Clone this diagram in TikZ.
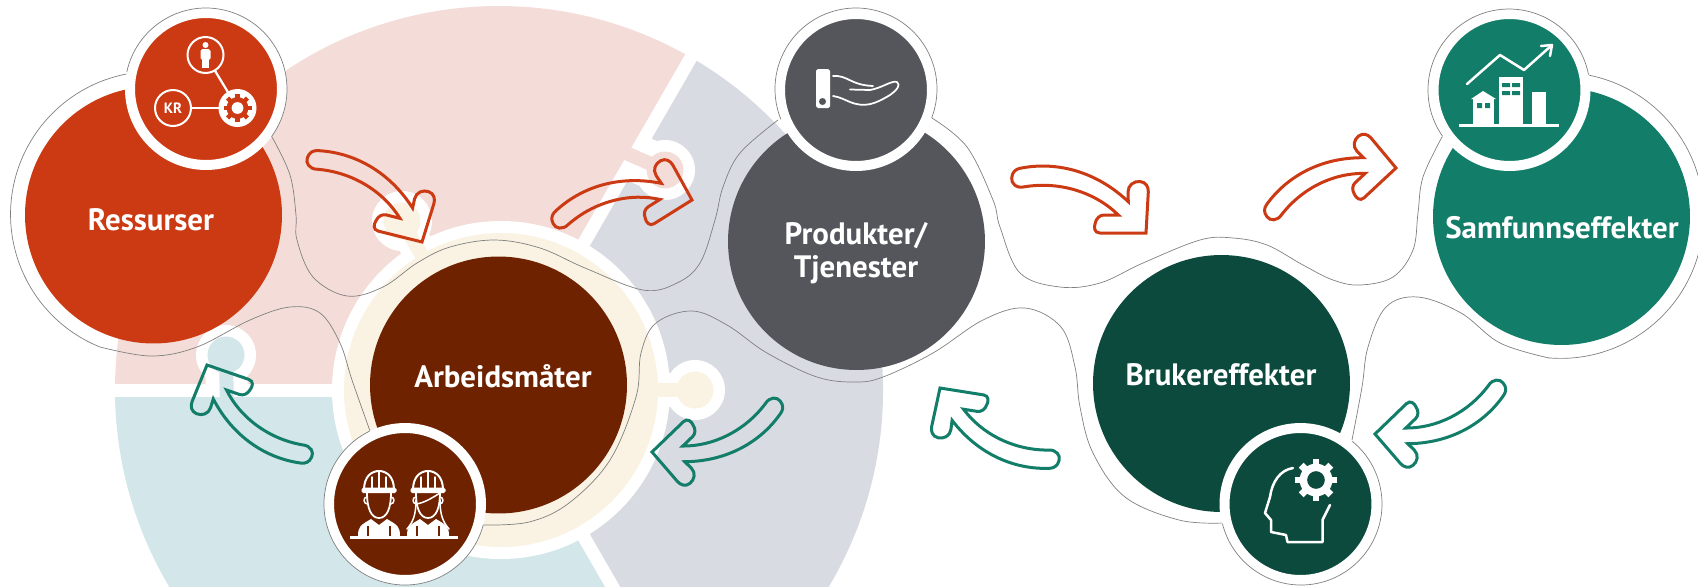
\documentclass[tikz,border=0pt]{standalone}
\usepackage{fontspec}
\setmainfont{PT Sans}
\definecolor{redfill}{HTML}{CC3A14}
\definecolor{brownfill}{HTML}{6E2200}
\definecolor{greyfill}{HTML}{55565B}
\definecolor{pinefill}{HTML}{0B4A3C}
\definecolor{greenfill}{HTML}{127D68}
\definecolor{piepink}{HTML}{F4DDD8}
\definecolor{piegrey}{HTML}{D8DBE2}
\definecolor{pieblue}{HTML}{D3E6EA}
\definecolor{piecream}{HTML}{FAF3E3}
\tikzset{
  hub/.style={circle,inner sep=0pt,outer sep=0pt,minimum size=5.14cm},
  icondisc/.style={circle,inner sep=0pt,outer sep=0pt,minimum size=3.04cm,draw=white,line width=.2cm},
  hubtext/.style={text=white,font=\bfseries\fontsize{17.6}{21}\selectfont,align=center,inner sep=0pt},
  blobline/.style={draw=black!50,line width=.4pt},
  linkdisc/.style={circle,inner sep=0pt,outer sep=0pt,minimum size=.72cm,draw=white,line width=.04cm},
  linkline/.style={white,line width=.045cm},
  glyph/.style={white,line width=.05cm,line cap=round,line join=round},
}
\newcommand{\piepiece}[3]{ \fill[#3] (499,390) -- ++(#1:384) arc[start angle=#1,end angle=#2,radius=384] -- cycle;}
\newcommand{\knobhalo}[5]{ \draw[white,line width=#5*0.02cm] (#1,#2) -- (#3,#4); \fill[white] (#3,#4) circle (30);}
\newcommand{\knobfill}[5]{ \draw[#5,line width=.28cm] (#1,#2) -- (#3,#4); \fill[#5] (#3,#4) circle (18.5);}
\newcommand{\iconarc}[4]{ \draw[blobline] (#1,#2) ++(#3:81) arc[start angle=#3,end angle=#4,radius=81];}
\newcommand{\flowarrow}[5]{ \begin{scope}[shift={(#1,#2)},rotate=#3,scale=#4]
\draw[#5,line width=.06cm,line join=miter] (-17.7,-31.3) -- (-18,-41) .. controls (-18,-48) and (-12,-52) .. (-6,-51.5) .. controls (0,-51) and (2.5,-46) .. (2.3,-41) -- (0,0) -- (-46,0) .. controls (-52,0) and (-52,-6) .. (-51,-9) .. controls (-50,-15) and (-46,-18) .. (-42,-18) -- (-27.7,-18) .. controls (-50,-40) and (-85,-52) .. (-121,-46.3) .. controls (-130,-44) and (-135,-50) .. (-134.3,-55) .. controls (-134,-61) and (-130,-64) .. (-126,-64.7) .. controls (-90,-72) and (-50,-62) .. (-17.7,-31.3) -- cycle;
\end{scope}}
\newcommand{\gearicon}[5]{ \foreach \a in {0,45,...,315} {\draw[#4,line width=#3*0.0065cm] (#1,#2) ++(\a:#3*0.7) -- ++(\a:#3*0.3);}
\fill[#4] (#1,#2) circle (#3*.78); \fill[#5] (#1,#2) circle (#3*.42);}
\newcommand{\worker}[2]{ \begin{scope}[shift={(#1,#2)}]
\draw[glyph,line width=.04cm] (-15,0) .. controls (-15,-14) and (-7,-19) .. (0,-19) .. controls (7,-19) and (15,-14) .. (15,0);
\draw[glyph,line width=.03cm] (-7,-1) -- (-7,-13) (0,-1) -- (0,-19) (7,-1) -- (7,-13);
\fill[white,rounded corners=1pt] (-17.5,-2.5) rectangle (17.5,3);
\draw[glyph,line width=.035cm] (-12,3) .. controls (-12,18) and (-8,28) .. (0,28) .. controls (8,28) and (12,18) .. (12,3);
\draw[glyph,line width=.03cm] (-12,7) .. controls (-16,7) and (-16,14) .. (-11.5,14) (12,7) .. controls (16,7) and (16,14) .. (11.5,14);
\fill[white] (-21,46) .. controls (-21,36) and (-18,35) .. (-8,29) -- (0,35) -- (8,29) .. controls (18,35) and (21,36) .. (21,46) -- cycle;
\draw[brownfill,line width=.03cm] (-11,36) -- (-11,46) (11,36) -- (11,46);
\end{scope}}
\begin{document}
\begin{tikzpicture}[x=.02cm,y=-.02cm]
\path[use as bounding box,clip] (0,0) rectangle (1698,586);
% pie
\piepiece{300}{420}{piegrey}
\knobhalo{615}{150}{665}{170}{48}
\piepiece{180}{300}{piepink}
\knobhalo{227}{400}{226}{355}{42}
\piepiece{60}{180}{pieblue}
\foreach \a in {60,180,300} {\draw[white,line width=.26cm] (499,390) -- ++(\a:400);}
\knobfill{612}{147}{665}{170}{piepink}
\knobfill{227}{410}{226}{355}{pieblue}
% ring
\knobhalo{425}{261}{402}{221}{34}
\knobhalo{650}{390}{695}{390}{34}
\fill[white] (501,390) circle (169);
\fill[piecream] (501,390) circle (157);
\knobfill{425}{261}{402}{221}{piecream}
\knobfill{650}{390}{695}{390}{piecream}
% hubs
\node[hub,fill=redfill] (ressurser) at (153.5,215) {};
\node[hub,fill=brownfill] (arbeid) at (498.5,385) {};
\node[hub,fill=greyfill] (produkter) at (856.5,241.5) {};
\node[hub,fill=pinefill] (bruker) at (1221.5,383.5) {};
\node[hub,fill=greenfill] (samfunn) at (1561.5,216.5) {};
\node[hubtext] (ressurstekst) at (151,220) {Ressurser};
\node[hubtext] (arbeidstekst) at (503,376) {Arbeidsmåter};
\node[hubtext] (produkttekst) at (856,253) {Produkter/\\[-2pt]Tjenester};
\node[hubtext] (brukertekst) at (1221,375) {Brukereffekter};
\node[hubtext] (samfunnstekst) at (1562,228) {Samfunnseffekter};
% outline
\draw[blobline] (100,347) arc[start angle=112,end angle=259.5,radius=143];
\draw[blobline] plot[smooth,tension=.6] coordinates {(272,137) (290,175) (296,215) (297,240) (313,277) (347,296) (383,287) (417,263) (450,247) (495,240) (540,248) (585,268) (643,290) (677,283) (700,263) (715,220) (723,187) (740,153) (778,120)};
\draw[blobline] plot[smooth,tension=.6] coordinates {(932,118) (967,147) (993,200) (1000,227) (1020,273) (1060,287) (1100,283) (1143,263) (1200,240) (1233,238) (1267,245) (1303,265) (1333,280) (1360,285) (1393,277) (1413,250) (1418,213) (1423,177) (1442,137)};
\draw[blobline] (1588,75) arc[start angle=-79,end angle=95,radius=143];
\draw[blobline] plot[smooth,tension=.6] coordinates {(1549,358) (1500,343) (1461,313) (1418,297) (1386,307) (1368,347) (1362,387) (1352,440)};
\draw[blobline] plot[smooth,tension=.6] coordinates {(1223,523) (1179,520) (1125,497) (1093,453) (1080,407) (1075,367) (1061,327) (1025,308) (983,320) (933,353) (883,377) (855,382) (817,377) (767,353) (727,325) (692,311) (656,323) (641,353) (636,397) (610,460) (569,503) (529,522) (483,525)};
\draw[blobline] plot[smooth,tension=.6] coordinates {(370,431) (352,380) (340,343) (320,313) (290,307) (250,320) (197,347) (151,356) (100,347)};
% icons
\node[icondisc,fill=redfill] (ressursikon) at (206,89) {};
\node[icondisc,fill=brownfill] (arbeidsikon) at (405,504) {};
\node[icondisc,fill=greyfill] (produktikon) at (856,90) {};
\node[icondisc,fill=pinefill] (brukerikon) at (1300.5,504) {};
\node[icondisc,fill=greenfill] (samfunnsikon) at (1509.5,90) {};
\iconarc{206}{89}{192}{396}
\iconarc{405}{504}{15}{244}
\iconarc{856}{89}{158}{381}
\iconarc{1301}{504}{-51}{166}
\iconarc{1509}{90}{145}{349}
% ressurser icon
\node[linkdisc] (person) at (205.5,55) {};
\node[linkdisc,text=white,font=\bfseries\fontsize{8.5}{10}\selectfont] (kr) at (173,108) {KR};
\node[linkdisc,fill=white] (tannhjul) at (237.5,108) {};
\draw[linkline] (person) -- (tannhjul);
\draw[linkline] (kr) -- (tannhjul);
\gearicon{237.5}{108}{14}{redfill}{white}
\fill[white] (205.5,45) circle (3);
\fill[white,rounded corners=1pt] (200.5,49) rectangle (210.5,60);
\fill[white] (202,58) rectangle (209,68);
% arbeid icon
\worker{379}{490}
\worker{428}{490}
\draw[glyph,line width=.03cm] (416,504) .. controls (424,503) and (432,498) .. (440,493);
\draw[glyph,line width=.03cm] (416,500) .. controls (416,515) and (413,522) .. (407,529);
\draw[glyph,line width=.03cm] (440,500) .. controls (440,515) and (443,522) .. (449,529);
\draw[white,line width=.06cm] (350,537) -- (458,537);
% produkt icon
\fill[white,rounded corners=1pt] (816,69) rectangle (830,108);
\fill[greyfill] (822.5,101.5) circle (3.5);
\draw[glyph,line width=.035cm] (833,76) .. controls (848,75) and (850,85) .. (873,86);
\draw[glyph,line width=.035cm] (850,89.5) -- (870,90) .. controls (882,88) and (892,80) .. (897,82) .. controls (901,85) and (897,90) .. (890,95) .. controls (875,104) and (865,108) .. (850,102) .. controls (845,100) and (840,97) .. (833,96);
% bruker icon
\gearicon{1316}{480}{21}{white}{pinefill}
\draw[glyph] (1293,468) .. controls (1280,470) and (1272,482) .. (1270,497) -- (1265,513) -- (1271,520) -- (1271,532) -- (1286,535) -- (1287.5,542) -- (1322.5,542) -- (1322.5,520) -- (1330,505);
% samfunn icon
\draw[white,line width=.06cm] (1459,125) -- (1559,125);
\fill[white] (1499,77) rectangle (1523,124);
\fill[greenfill] (1502,83) rectangle (1510,87) (1512,83) rectangle (1520,87) (1502,91) rectangle (1510,95) (1512,91) rectangle (1520,95);
\fill[white] (1532,92) rectangle (1546,124);
\fill[white] (1473,98) rectangle (1494,124);
\fill[white] (1471,99) -- (1483,91) -- (1496,99) -- cycle;
\fill[greenfill] (1477,103) rectangle (1482,108) (1485,103) rectangle (1490,108);
\draw[glyph,line cap=round] (1467,84) -- (1500,55) -- (1524,70) -- (1552,45);
\draw[glyph,line cap=round] (1541,46) -- (1552,45) -- (1550,56);
% arrows
\flowarrow{422}{242}{-14}{.98}{redfill}
\flowarrow{692}{200}{32}{.97}{redfill}
\flowarrow{1146}{233}{0}{1}{redfill}
\flowarrow{1396}{168}{43}{.95}{redfill}
\flowarrow{1375}{434}{-136}{.95}{greenfill}
\flowarrow{940}{388}{-189}{.96}{greenfill}
\flowarrow{652}{452}{-136}{.95}{greenfill}
\flowarrow{207}{365}{-199}{.96}{greenfill}
\end{tikzpicture}
\end{document}
